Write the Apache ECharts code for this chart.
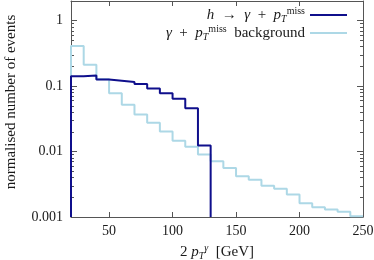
<!DOCTYPE html>
<html><head><meta charset="utf-8">
<script src="https://cdn.jsdelivr.net/npm/echarts@6/dist/echarts.min.js"></script>
<style>html,body{margin:0;padding:0;background:#fff}#c{width:374px;height:260px}</style>
</head><body><div id="c"></div>
<script>
// bin edges start at 20 GeV, 10 GeV wide
const binStart = 20;
const binWidth = 10;
const signalName = 'signal';
const backgroundName = 'background';
// h -> gamma + pTmiss, bins 20-30 ... 120-130
const signalValues = [0.141, 0.145, 0.126, 0.121, 0.116, 0.108, 0.092, 0.078, 0.064, 0.046, 0.0124];
// gamma + pTmiss background, bins 20-30 ... 240-250
const backgroundValues = [0.41, 0.213, 0.127, 0.078, 0.052, 0.037, 0.0276, 0.0203, 0.0146, 0.0118, 0.0090,
  0.0071, 0.0056, 0.0042, 0.0037, 0.0030, 0.0027, 0.0022, 0.00162, 0.00141, 0.00130, 0.00120, 0.00103];
const xTicks = [50, 100, 150, 200, 250];
const yTicks = [0.001, 0.01, 0.1, 1];
const yMinorTicks = [0.002,0.003,0.004,0.005,0.006,0.007,0.008,0.009,
  0.02,0.03,0.04,0.05,0.06,0.07,0.08,0.09,
  0.2,0.3,0.4,0.5,0.6,0.7,0.8,0.9, 2];
const yMin = 0.001, yMax = 2, xMin = 20, xMax = 250;

function steps(vals, dropToFloor) {
  const pts = [[binStart, yMin]];
  vals.forEach((v, i) => pts.push([binStart + i * binWidth, v]));
  const end = binStart + vals.length * binWidth;
  pts.push([end, dropToFloor ? yMin : vals[vals.length - 1]]);
  return pts;
}

const FONT = 'Liberation Serif';
const TXT = '#1a1a1a';
const AX = '#555';
const LH = 18;
const rich = {
  i: {fontFamily: FONT, fontSize: 15, fontStyle: 'italic', color: TXT, lineHeight: LH},
  p: {fontFamily: FONT, fontSize: 15, fontStyle: 'italic', color: TXT, lineHeight: LH},
  r: {fontFamily: FONT, fontSize: 15, color: TXT, lineHeight: LH},
  sub: {fontFamily: FONT, fontSize: 10, fontStyle: 'italic', color: TXT, lineHeight: LH, verticalAlign: 'bottom'},
  sup: {fontFamily: FONT, fontSize: 10, color: TXT, lineHeight: LH, verticalAlign: 'top'},
  supi: {fontFamily: FONT, fontSize: 10, fontStyle: 'italic', color: TXT, lineHeight: LH, verticalAlign: 'top'}
};

const chart = echarts.init(document.getElementById('c'), null, {renderer: 'canvas'});
const xBase = {type: 'value', min: xMin, max: xMax, splitLine: {show: false},
  axisLine: {show: true, onZero: false, lineStyle: {color: AX, width: 1}}};
const yBase = {type: 'log', logBase: 10, min: yMin, max: yMax, splitLine: {show: false},
  axisLine: {show: true, onZero: false, lineStyle: {color: AX, width: 1}}};
chart.setOption({
  animation: false,
  grid: {left: 71, right: 11, top: 1, bottom: 43, containLabel: false, outerBoundsMode: 'none'},
  legend: {
    orient: 'vertical', align: 'right', right: 27, top: 6, itemGap: 0, padding: 0,
    itemWidth: 37, itemHeight: 2, icon: 'rect',
    data: [signalName, backgroundName],
    textStyle: {fontFamily: FONT, fontSize: 15, color: TXT, rich: rich, lineHeight: LH},
    formatter: n => n === signalName
      ? '{i|h}{r|  →  }{i|γ}{r|  +  }{p|p}{sub|T}{sup|miss}'
      : '{i|γ}{r|  +  }{p|p}{sub|T}{sup|miss}{r|  background}'
  },
  xAxis: [
    Object.assign({}, xBase, {position: 'bottom',
      axisTick: {show: true, inside: true, length: 5, customValues: xTicks, lineStyle: {color: AX}},
      axisLabel: {show: true, customValues: xTicks, fontFamily: FONT, fontSize: 14, color: TXT, margin: 7},
      name: '{r|2 }{p|p}{sub|T}{supi|γ}{r|  [GeV]}', nameLocation: 'middle', nameGap: 21,
      nameTextStyle: {rich: rich, fontFamily: FONT, fontSize: 15, color: TXT, lineHeight: LH}}),
    Object.assign({}, xBase, {position: 'top',
      axisTick: {show: true, inside: true, length: 5, customValues: xTicks, lineStyle: {color: AX}},
      axisLabel: {show: false}})
  ],
  yAxis: [
    Object.assign({}, yBase, {position: 'left',
      axisTick: {show: true, inside: true, length: 6, customValues: yTicks, lineStyle: {color: AX}},
      axisLabel: {show: true, customValues: yTicks, fontFamily: FONT, fontSize: 14, color: TXT, margin: 8,
        formatter: v => String(+v.toPrecision(3))},
      name: 'normalised number of events', nameLocation: 'middle', nameGap: 52,
      nameTextStyle: {fontFamily: FONT, fontSize: 15, color: TXT, padding: [0, 0, 0, 14]}}),
    Object.assign({}, yBase, {position: 'left',
      axisLine: {show: false},
      axisTick: {show: true, inside: true, length: 3, customValues: yMinorTicks, lineStyle: {color: AX}},
      axisLabel: {show: false}}),
    Object.assign({}, yBase, {position: 'right',
      axisTick: {show: true, inside: true, length: 6, customValues: yTicks, lineStyle: {color: AX}},
      axisLabel: {show: false}}),
    Object.assign({}, yBase, {position: 'right',
      axisLine: {show: false},
      axisTick: {show: true, inside: true, length: 3, customValues: yMinorTicks, lineStyle: {color: AX}},
      axisLabel: {show: false}})
  ],
  series: [
    {name: backgroundName, type: 'line', step: 'end', symbol: 'none', xAxisIndex: 0, yAxisIndex: 0,
      data: steps(backgroundValues, false), lineStyle: {color: '#add8e6', width: 2}, itemStyle: {color: '#add8e6'}, z: 2},
    {name: signalName, type: 'line', step: 'end', symbol: 'none', xAxisIndex: 0, yAxisIndex: 0,
      data: steps(signalValues, true), lineStyle: {color: '#0f0f8c', width: 2}, itemStyle: {color: '#0f0f8c'}, z: 3}
  ]
});
</script></body></html>
